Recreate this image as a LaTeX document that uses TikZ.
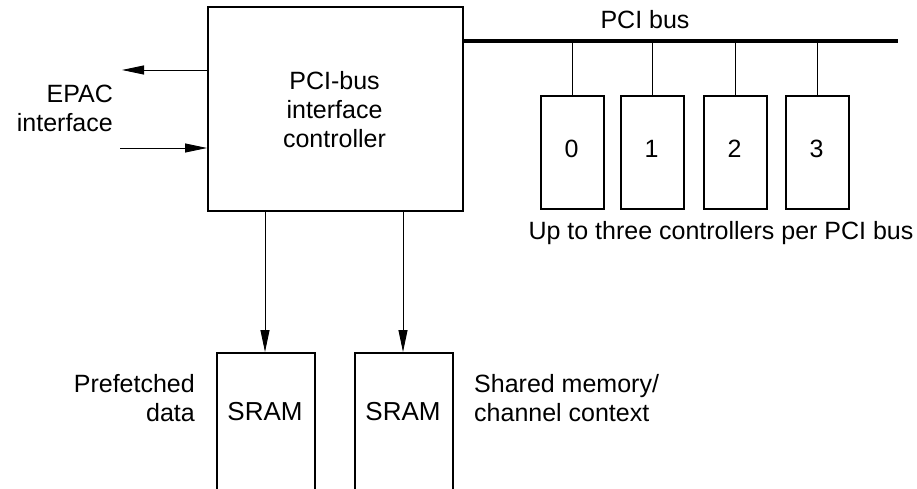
\documentclass[tikz,border=0pt]{standalone}
\usepackage{fontspec}
\setmainfont{Liberation Sans}
\usetikzlibrary{arrows.meta}
\begin{document}
\begin{tikzpicture}[x=1pt,y=-1pt,
  every node/.style={font=\fontsize{25}{29}\selectfont, inner sep=0pt},
  block/.style={draw, line width=1.7pt, anchor=north west},
  link/.style={line width=0.9pt},
  flow/.style={link, -{Triangle[length=22pt,width=9pt]}},
  bus/.style={line width=4pt},
  lbl/.style={align=center}]
\useasboundingbox (0,0) rectangle (917,489);
\clip (0,0) rectangle (917,489);

% interface controller
\node[block, minimum width=255pt, minimum height=204pt] (ctl) at (207,6) {};
\node[lbl] (ctltxt) at (334.5,110) {PCI-bus\\interface\\controller};

% PCI bus and attached controllers
\coordinate (busL) at (462,41.5);
\coordinate (busR) at (898,41.5);
\draw[bus] (busL) -- (busR);
\node[lbl] (busname) at (645,20) {PCI bus};
\foreach \i/\x in {0/540,1/620,2/703,3/785}{
  \node[block, minimum width=63pt, minimum height=113pt] (c\i) at (\x,95) {};
  \node[anchor=base] (n\i) at (\x+31.5,158) {\i};
  \coordinate (t\i) at (c\i.north |- busL);
  \draw[link] (t\i) -- (c\i.north);
}
\node[lbl] (upto) at (721,233) {Up to three controllers per PCI bus};

% EPAC side
\node[align=right, anchor=east] (epac) at (113,108) {EPAC\\interface};
\coordinate (eout) at (122,70);
\coordinate (ein) at (120,148);
\draw[flow] (ctl.west |- eout) -- (eout);
\draw[flow] (ein) -- (ctl.west |- ein);

% SRAM banks
\node[block, minimum width=98pt, minimum height=160pt] (s1) at (216,352) {};
\node[block, minimum width=98pt, minimum height=160pt] (s2) at (354,352) {};
\node[font=\fontsize{26}{29}\selectfont, anchor=base] (s1t) at (265,420) {SRAM};
\node[font=\fontsize{26}{29}\selectfont, anchor=base] (s2t) at (403,420) {SRAM};
\draw[flow] (ctl.south -| s1t) -- (s1.north -| s1t);
\draw[flow] (ctl.south -| s2t) -- (s2.north -| s2t);
\node[align=right, anchor=east] (pre) at (195,398) {Prefetched\\data};
\node[align=left, anchor=west] (shm) at (474,398) {Shared memory/\\channel context};
\end{tikzpicture}
\end{document}
